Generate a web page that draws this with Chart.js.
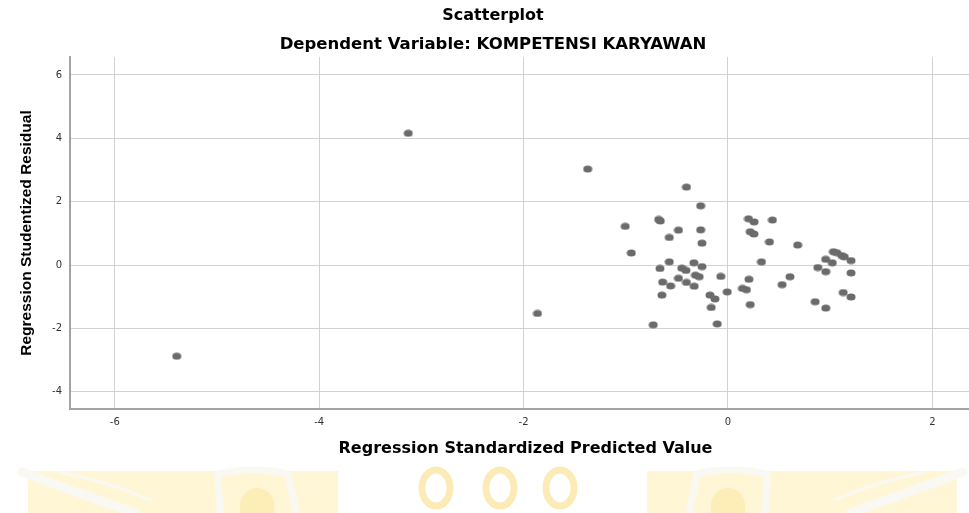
<!DOCTYPE html>
<html>
<head>
<meta charset="utf-8">
<script src="https://cdn.jsdelivr.net/npm/chart.js@4.4.0/dist/chart.umd.min.js"></script>
<style>
    html, body { margin: 0; padding: 0; background: #fff; overflow: hidden; }
    #wrap { width: 986px; height: 513px; }
</style>
</head>
<body>
<div id="wrap"><canvas id="chart"></canvas></div>
<script>
const predictedValues = [
    -5.394, -3.128, -1.373, -1.864, -0.406,
    -0.267, -1.005, -0.678, -0.662, -0.484,
    -0.267, -0.574, -0.254, -0.946, -0.574,
    -0.333, -0.665, -0.452, -0.411, -0.254,
    -0.318, -0.282, -0.484, -0.639, -0.406,
    -0.561, -0.331, -0.070, -0.646, -0.176,
    -0.127, -0.007, -0.164, -0.731, -0.105,
    0.201, 0.256, 0.435, 0.218, 0.254,
    0.406, 0.682, 0.328, 0.205, 0.142,
    0.181, 0.218, 0.607, 0.530, 1.032,
    1.065, 1.113, 1.138, 1.204, 0.956,
    1.021, 0.879, 0.957, 1.204, 1.128,
    1.204, 0.853, 0.957
];
const studentizedResiduals = [
    -2.88, 4.16, 3.03, -1.53, 2.46,
    1.87, 1.22, 1.44, 1.39, 1.10,
    1.11, 0.87, 0.69, 0.38, 0.10,
    0.07, -0.11, -0.10, -0.17, -0.05,
    -0.32, -0.37, -0.42, -0.54, -0.55,
    -0.66, -0.67, -0.36, -0.95, -0.95,
    -1.07, -0.85, -1.34, -1.89, -1.86,
    1.46, 1.36, 1.42, 1.05, 0.98,
    0.73, 0.63, 0.10, -0.45, -0.74,
    -0.78, -1.25, -0.37, -0.62, 0.42,
    0.39, 0.30, 0.26, 0.14, 0.18,
    0.07, -0.08, -0.21, -0.25, -0.87,
    -1.01, -1.16, -1.36
];
const xTickValues = [-6, -4, -2, 0, 2];
const yTickValues = [-4, -2, 0, 2, 4, 6];

const titleText = 'Scatterplot';
const subtitleText = 'Dependent Variable: KOMPETENSI KARYAWAN';
const xTitle = 'Regression Standardized Predicted Value';
const yTitle = 'Regression Studentized Residual';

// small flat ellipse like the SPSS markers
function makeDot() {
    const c = document.createElement('canvas');
    c.width = 10;
    c.height = 8;
    const g = c.getContext('2d');
    g.fillStyle = '#6b6b6b';
    g.beginPath();
    g.ellipse(5, 4, 4.5, 3.5, 0, 0, Math.PI * 2);
    g.fill();
    return c;
}

// faint logo watermark along the bottom of the screenshot
function drawBlock(ctx, flip) {
    ctx.save();
    if (flip) {
        ctx.translate(985, 0);
        ctx.scale(-1, 1);
    }
    ctx.fillStyle = '#fff6d6';
    ctx.fillRect(28, 471, 310, 42);

    ctx.strokeStyle = '#f9f8f3';
    ctx.lineCap = 'round';
    ctx.lineWidth = 9;
    ctx.beginPath();
    ctx.moveTo(22, 472);
    ctx.quadraticCurveTo(70, 490, 135, 513);
    ctx.stroke();
    ctx.lineWidth = 3;
    ctx.beginPath();
    ctx.moveTo(60, 472);
    ctx.quadraticCurveTo(110, 482, 150, 500);
    ctx.stroke();

    ctx.lineWidth = 7;
    ctx.beginPath();
    ctx.moveTo(220, 513);
    ctx.lineTo(218, 474);
    ctx.quadraticCurveTo(255, 466, 288, 474);
    ctx.lineTo(296, 513);
    ctx.stroke();

    ctx.fillStyle = '#fdeeb8';
    ctx.beginPath();
    ctx.ellipse(257, 505, 17, 17, 0, Math.PI, Math.PI * 2);
    ctx.lineTo(274, 513);
    ctx.lineTo(240, 513);
    ctx.fill();
    ctx.restore();
}

const watermark = {
    id: 'watermark',
    beforeDraw(chart) {
        const ctx = chart.ctx;
        ctx.save();
        ctx.fillStyle = '#fff';
        ctx.fillRect(0, 0, chart.width, chart.height);
        drawBlock(ctx, false);
        drawBlock(ctx, true);
        ctx.strokeStyle = '#fcebb6';
        ctx.lineWidth = 7;
        [436, 500, 560].forEach(cx => {
            ctx.beginPath();
            ctx.ellipse(cx, 488, 14, 18, 0, 0, Math.PI * 2);
            ctx.stroke();
        });
        ctx.restore();
    }
};

const points = predictedValues.map((x, i) => ({ x: x, y: studentizedResiduals[i] }));

// the canvas is 986 wide so the titles centre at 493 like the original;
// the plot runs on past the 969px window edge and gets cropped there
new Chart(document.getElementById('chart'), {
    type: 'scatter',
    data: {
        datasets: [{
            data: points,
            pointStyle: makeDot(),
            pointRadius: 4,
            pointHoverRadius: 4
        }]
    },
    options: {
        responsive: true,
        maintainAspectRatio: false,
        animation: false,
        plugins: {
            legend: { display: false },
            tooltip: { enabled: false },
            title: {
                display: true,
                text: titleText,
                color: '#000',
                font: { family: 'DejaVu Sans', size: 16, weight: 'bold' },
                padding: { top: 6, bottom: 10 }
            },
            subtitle: {
                display: true,
                text: subtitleText,
                color: '#000',
                font: { family: 'DejaVu Sans', size: 16.5, weight: 'bold' },
                padding: { top: 0, bottom: 2 }
            }
        },
        scales: {
            x: {
                type: 'linear',
                min: -6.438,
                max: 2.476,
                afterBuildTicks: scale => { scale.ticks = xTickValues.map(v => ({ value: v })); },
                afterFit: scale => { scale.height = 104; },
                grid: { color: '#d2d2d2', lineWidth: 1, drawTicks: false },
                border: { color: '#a3a3a3', width: 2 },
                ticks: {
                    color: '#333',
                    padding: 7,
                    font: { family: 'DejaVu Sans', size: 10 }
                },
                title: {
                    display: true,
                    text: xTitle,
                    color: '#000',
                    font: { family: 'DejaVu Sans', size: 16, weight: 'bold' },
                    padding: { top: 0, bottom: 55 }
                }
            },
            y: {
                type: 'linear',
                min: -4.547,
                max: 6.568,
                afterBuildTicks: scale => { scale.ticks = yTickValues.map(v => ({ value: v })); },
                afterFit: scale => { scale.width = 70; },
                grid: { color: '#d2d2d2', lineWidth: 1, drawTicks: false },
                border: { color: '#a3a3a3', width: 2 },
                ticks: {
                    color: '#333',
                    padding: 8,
                    font: { family: 'DejaVu Sans', size: 10 }
                },
                title: {
                    display: true,
                    text: yTitle,
                    color: '#000',
                    font: { family: 'Liberation Sans', size: 15.5, weight: 'bold' },
                    padding: { top: 17, bottom: 0 }
                }
            }
        }
    },
    plugins: [watermark]
});
</script>
</body>
</html>
